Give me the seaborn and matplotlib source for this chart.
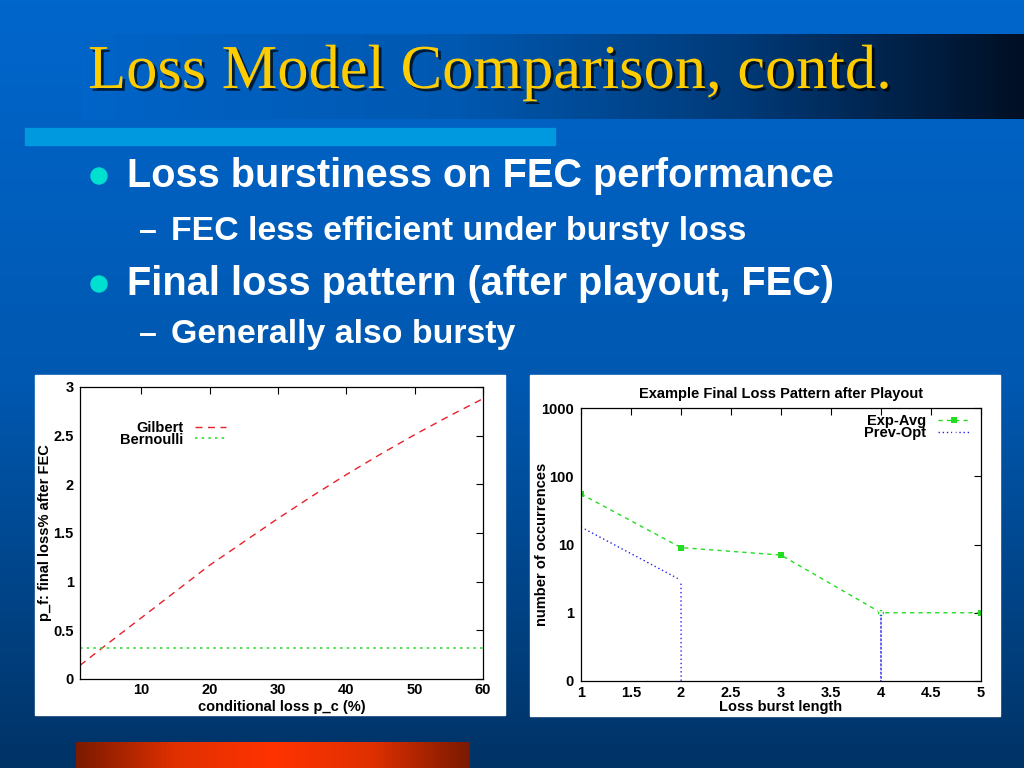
import numpy as np
import pandas as pd
import matplotlib
matplotlib.use("Agg")
import matplotlib.pyplot as plt
import matplotlib.patheffects as pe
from matplotlib.patches import Rectangle, Circle
from matplotlib.colors import LinearSegmentedColormap
import seaborn as sns

# --- data ---
pc = [1, 5, 10, 15, 20, 25, 30, 35, 40, 45, 50, 55, 60]
gilbert = [0.14, 0.36, 0.63, 0.90, 1.17, 1.41, 1.65, 1.88, 2.10, 2.31, 2.51, 2.70, 2.88]
bernoulli = [0.315, 0.315, 0.315, 0.315, 0.315, 0.315, 0.315,
             0.315, 0.315, 0.315, 0.315, 0.315, 0.315]

burst_len = [1, 2, 3, 4, 5]
exp_avg = [55, 9, 7, 1, 1]
prev_opt = [18, 3, 0, 1, 0]

left_xticks = [10, 20, 30, 40, 50, 60]
left_yticks = [0, 0.5, 1, 1.5, 2, 2.5, 3]
left_ylabels = ["0", "0.5", "1", "1.5", "2", "2.5", "3"]
right_xticks = [1, 1.5, 2, 2.5, 3, 3.5, 4, 4.5, 5]
right_xlabels = ["1", "1.5", "2", "2.5", "3", "3.5", "4", "4.5", "5"]
right_yticks = [0.1, 1, 10, 100, 1000]
right_ylabels = ["0", "1", "10", "100", "1000"]

sns.set_theme(style="white")
plt.rcParams["font.family"] = ["Liberation Sans", "DejaVu Sans"]
FS = 10.5

W, H = 1024, 768
fig = plt.figure(figsize=(W / 100, H / 100), dpi=100)

# --- slide background ---
bg = fig.add_axes([0, 0, 1, 1], zorder=-10)
bg.set_xlim(0, W)
bg.set_ylim(H, 0)
bg.axis("off")
vgrad = LinearSegmentedColormap.from_list("v", ["#0066cc", "#0058b0", "#003366"])
bg.imshow(np.linspace(0, 1, 256).reshape(-1, 1), cmap=vgrad, aspect="auto",
          extent=[0, W, H, 0], zorder=0)
hgrad = LinearSegmentedColormap.from_list(
    "h", [(0, "#0064c8"), (0.4, "#0058b0"), (0.7, "#003a78"), (1.0, "#000f24")])
bg.imshow(np.linspace(0, 1, 256).reshape(1, -1), cmap=hgrad, aspect="auto",
          extent=[82, W, 119, 34], zorder=1)
bg.add_patch(Rectangle((25, 128), 530, 17, color="#0099e0", zorder=2))
ograd = LinearSegmentedColormap.from_list(
    "o", [(0, "#7a1a00"), (0.25, "#e03000"), (0.5, "#ff3300"), (0.75, "#e03000"), (1, "#7a1a00")])
bg.imshow(np.linspace(0, 1, 256).reshape(1, -1), cmap=ograd, aspect="auto",
          extent=[76, 470, 768, 742], zorder=1)

bg.text(88, 88, "Loss Model Comparison, contd.", family="Liberation Serif",
        fontsize=45, color="#ffcc00", va="baseline", zorder=3,
        path_effects=[pe.withSimplePatchShadow(offset=(2, -2), shadow_rgbFace="black", alpha=0.7)])

# bullets: (level, baseline y, text)
bullets = [
    (0, 187, "Loss burstiness on FEC performance"),
    (1, 240, "FEC less efficient under bursty loss"),
    (0, 295, "Final loss pattern (after playout, FEC)"),
    (1, 343, "Generally also bursty"),
]
for level, ty, txt in bullets:
    if level == 0:
        bg.add_patch(Circle((99, ty - 11), 8, color="#00e0d0", zorder=3))
        bg.text(127, ty, txt, fontsize=28.6, color="white", weight="bold",
                va="baseline", zorder=3)
    else:
        bg.text(139, ty, "\u2013", fontsize=23, color="white", weight="bold",
                va="baseline", zorder=3)
        bg.text(171, ty, txt, fontsize=24.4, color="white", weight="bold",
                va="baseline", zorder=3)

# white chart panels
bg.add_patch(Rectangle((35, 375), 470, 340, color="white", zorder=2))
bg.add_patch(Rectangle((530, 375), 470, 341, color="white", zorder=2))

tick_kw = dict(direction="in", top=True, right=True, length=5, width=0.8,
               color="black", labelcolor="black", labelsize=FS)
text_kw = dict(fontsize=FS, weight="bold", color="black")


def style_axes(ax):
    ax.set_facecolor("white")
    for s in ax.spines.values():
        s.set_color("black")
        s.set_linewidth(0.9)
    ax.tick_params(which="major", **tick_kw)
    ax.tick_params(which="minor", length=0)
    for lab in ax.get_xticklabels() + ax.get_yticklabels():
        lab.set_fontweight("bold")


def style_legend(leg):
    for t in leg.get_texts():
        t.set_fontweight("bold")
        t.set_color("black")


leg_kw = dict(frameon=False, markerfirst=False, fontsize=FS, labelspacing=-0.16,
              handletextpad=0.8, borderpad=0, borderaxespad=0)

# --- left chart ---
ax1 = fig.add_axes([80 / W, 1 - 679 / H, 403 / W, 292 / H])
df1 = pd.DataFrame({"pc": pc, "Gilbert": gilbert, "Bernoulli": bernoulli})
sns.lineplot(data=df1, x="pc", y="Gilbert", ax=ax1, color="#e8202a",
             linestyle=(0, (5, 4)), linewidth=1.0, label="Gilbert")
sns.lineplot(data=df1, x="pc", y="Bernoulli", ax=ax1, color="#33dd33",
             linestyle=(0, (1.5, 2.5)), linewidth=1.2, label="Bernoulli")
ax1.set_xlim(1, 60)
ax1.set_ylim(0, 3)
ax1.set_xticks(left_xticks)
ax1.set_yticks(left_yticks)
ax1.set_yticklabels(left_ylabels)
style_axes(ax1)
ax1.tick_params(axis="x", pad=3)
ax1.tick_params(axis="y", pad=4.5)
ax1.set_xlabel("conditional loss p_c (%)", **text_kw)
ax1.set_ylabel("p_f: final loss% after FEC", **text_kw)
ax1.xaxis.set_label_coords(0.5, -0.072)
ax1.yaxis.set_label_coords(-0.069, 0.5)
leg1 = ax1.legend(loc="upper right", bbox_to_anchor=(0.362, 0.884),
                  handlelength=2.1, **leg_kw)
style_legend(leg1)

# --- right chart ---
ax2 = fig.add_axes([581 / W, 1 - 681 / H, 400 / W, 273 / H])
df2 = pd.DataFrame({"len": burst_len, "Exp-Avg": exp_avg, "Prev-Opt": prev_opt})
sns.lineplot(data=df2, x="len", y="Exp-Avg", ax=ax2, color="#22dd22",
             linestyle=(0, (3, 3)), linewidth=1.0, marker="s", markersize=4,
             markeredgewidth=0, label="Exp-Avg")
sns.lineplot(data=df2, x="len", y="Prev-Opt", ax=ax2, color="#2222ee",
             linestyle=(0, (1, 2)), linewidth=1.0, marker="x", markersize=4,
             markeredgewidth=1.2, label="Prev-Opt")
ax2.set_yscale("log", nonpositive="clip")
ax2.set_xlim(1, 5)
ax2.set_ylim(0.1, 1000)
ax2.set_xticks(right_xticks)
ax2.set_xticklabels(right_xlabels)
ax2.set_yticks(right_yticks)
ax2.set_yticklabels(right_ylabels)
style_axes(ax2)
ax2.tick_params(axis="x", pad=3.5)
ax2.tick_params(axis="y", pad=5)
ax2.set_title("Example Final Loss Pattern after Playout", pad=7, **text_kw)
ax2.set_xlabel("Loss burst length", **text_kw)
ax2.set_ylabel("number of occurrences", **text_kw)
ax2.xaxis.set_label_coords(0.5, -0.07)
ax2.yaxis.set_label_coords(-0.08, 0.5)
leg2 = ax2.legend(loc="upper right", bbox_to_anchor=(0.9725, 0.978),
                  handlelength=2.2, **leg_kw)
style_legend(leg2)

fig.savefig("out.png", dpi=100)
